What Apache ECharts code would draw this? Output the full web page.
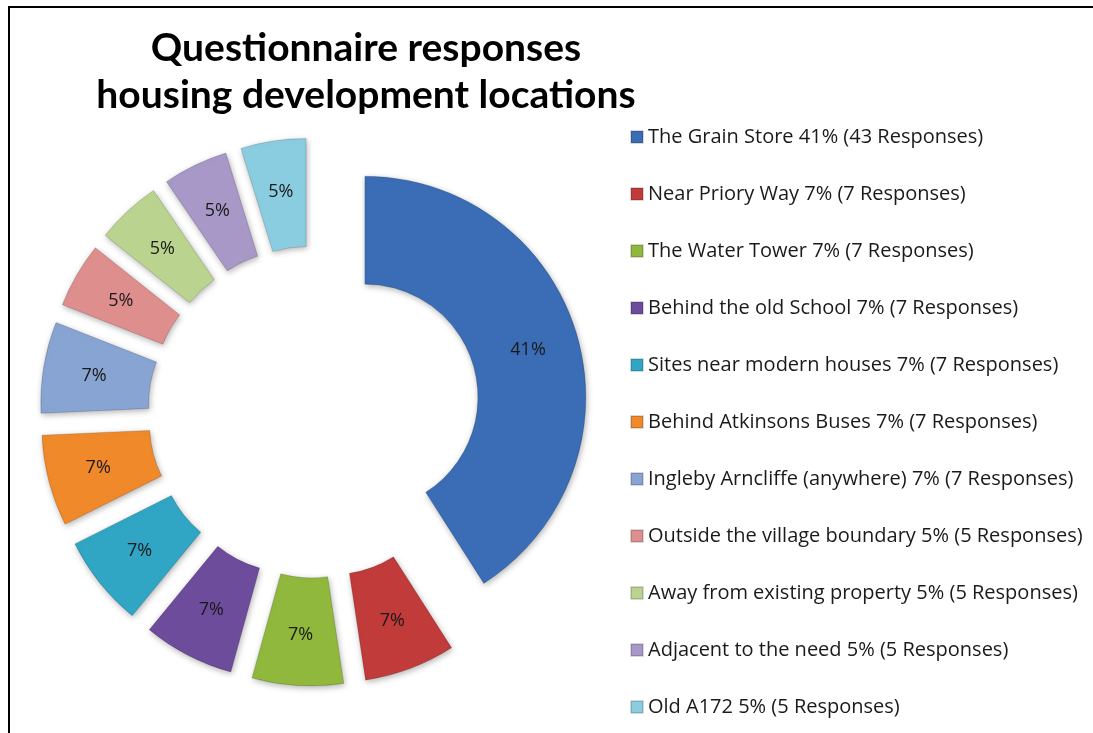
<!DOCTYPE html>
<html>
<head>
<meta charset="utf-8">
<script src="https://cdn.jsdelivr.net/npm/echarts@6/dist/echarts.min.js"></script>
<style>
  html, body { margin: 0; padding: 0; background: #fff; }
  #main { width: 1093px; height: 733px; }
</style>
</head>
<body>
<div id="main"></div>
<script>
const locations = [
  'The Grain Store',
  'Near Priory Way',
  'The Water Tower',
  'Behind the old School',
  'Sites near modern houses',
  'Behind Atkinsons Buses',
  'Ingleby Arncliffe (anywhere)',
  'Outside the village boundary',
  'Away from existing property',
  'Adjacent to the need',
  'Old A172'
]
const responses = [43, 7, 7, 7, 7, 7, 7, 5, 5, 5, 5]
const colors = [
  '#3a6db5', '#c03b3a', '#8fb83c', '#6d4c9b', '#31a6c4', '#f0892a',
  '#88a4d3', '#de8e8c', '#bad48f', '#a898c8', '#8bcde0'
]

const total = responses.reduce((a, b) => a + b, 0)
const pct = (v) => Math.round((v / total) * 100) + '%'

const chart = echarts.init(document.getElementById('main'))

const option = {
  backgroundColor: '#fff',
  color: colors,
  title: {
    text: 'Questionnaire responses\nhousing development locations',
    left: 361,
    top: 20,
    textAlign: 'center',
    textStyle: {
      fontFamily: 'Lato',
      fontWeight: 'bold',
      fontSize: 39,
      lineHeight: 47,
      color: '#000'
    }
  },
  legend: {
    orient: 'vertical',
    left: 625,
    top: 121,
    itemWidth: 12,
    itemHeight: 12,
    itemGap: 35,
    icon: 'rect',
    data: locations,
    formatter: (name) => {
      const v = responses[locations.indexOf(name)]
      return name + ' ' + pct(v) + ' (' + v + ' Responses)'
    },
    textStyle: {
      fontFamily: 'Open Sans',
      fontSize: 20,
      lineHeight: 22,
      color: '#1a1a1a'
    }
  },
  graphic: [
    {
      type: 'rect',
      shape: { x: 9, y: 7, width: 1120, height: 800 },
      style: { fill: 'none', stroke: '#000', lineWidth: 2 },
      silent: true
    }
  ],
  series: [
    {
      type: 'pie',
      center: [314, 412],
      radius: [113, 221],
      startAngle: 90,
      clockwise: true,
      selectedMode: 'multiple',
      selectedOffset: 53,
      animation: false,
      itemStyle: {
        borderColor: 'rgba(0,0,0,0.15)',
        borderWidth: 1,
        shadowBlur: 6,
        shadowColor: 'rgba(0,0,0,0.3)',
        shadowOffsetX: 1,
        shadowOffsetY: 2
      },
      label: {
        position: 'inside',
        formatter: (p) => pct(p.value),
        fontFamily: 'Open Sans',
        fontSize: 18,
        color: '#1a1a1a'
      },
      labelLine: { show: false },
      emphasis: { disabled: true },
      data: locations.map((name, i) => ({
        name: name,
        value: responses[i],
        selected: true
      }))
    }
  ]
}

chart.setOption(option)
</script>
</body>
</html>
